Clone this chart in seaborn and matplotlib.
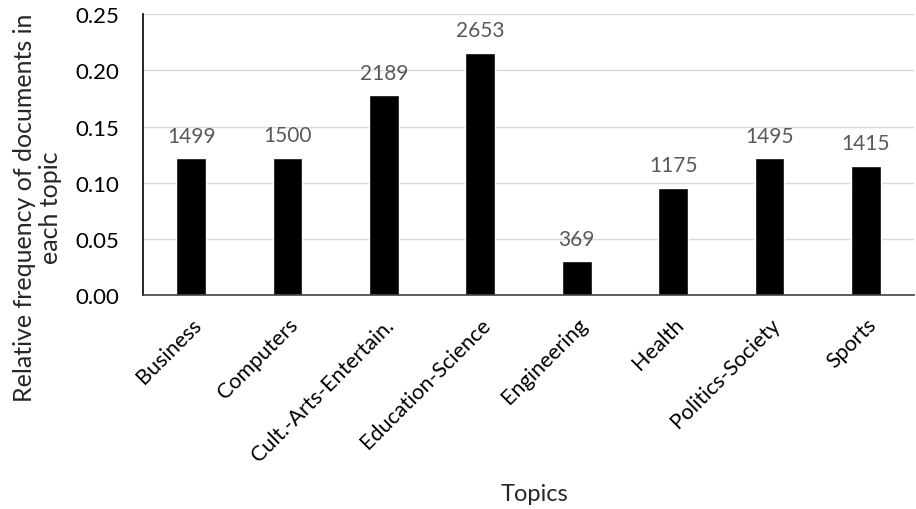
import matplotlib
matplotlib.use("Agg")
import matplotlib.pyplot as plt
import seaborn as sns
import pandas as pd

topics = ["Business", "Computers", "Cult.-Arts-Entertain.", "Education-Science",
          "Engineering", "Health", "Politics-Society", "Sports"]
doc_counts = [1499, 1500, 2189, 2653, 369, 1175, 1495, 1415]
y_ticks = [0.00, 0.05, 0.10, 0.15, 0.20, 0.25]

total = sum(doc_counts)
df = pd.DataFrame({"topic": topics, "count": doc_counts})
df["freq"] = df["count"] / total

sns.set_theme(style="white")
plt.rcParams["font.family"] = ["Lato", "DejaVu Sans"]

fig = plt.figure(figsize=(9.16, 5.10), dpi=100)
ax = fig.add_axes([0.156, 0.42, 0.842, 0.55])

sns.barplot(data=df, x="topic", y="freq", color="black", width=0.31,
            saturation=1, ax=ax)

ax.set_ylim(0, 0.25)
ax.set_yticks(y_ticks)
ax.set_yticklabels([f"{v:.2f}" for v in y_ticks], fontsize=16, color="black")
ax.yaxis.grid(True, color="#d9d9d9", linewidth=1)
ax.set_axisbelow(True)
ax.tick_params(axis="y", length=0, pad=17)
ax.tick_params(axis="x", length=0, pad=14)

for lbl in ax.get_xticklabels():
    lbl.set_rotation(45)
    lbl.set_ha("right")
    lbl.set_rotation_mode("anchor")
    lbl.set_fontsize(15.5)
    lbl.set_color("black")

for i, (c, f) in enumerate(zip(df["count"], df["freq"])):
    ax.annotate(str(c), (i, f), xytext=(0, 9), textcoords="offset points",
                ha="center", va="bottom", fontsize=15, color="#595959")

for side in ["top", "right"]:
    ax.spines[side].set_visible(False)
ax.spines["left"].set_color("black")
ax.spines["left"].set_linewidth(1.2)
ax.spines["bottom"].set_color("#404040")
ax.spines["bottom"].set_linewidth(1.2)

ax.set_ylabel("")
ax.set_xlabel("")
fig.text(0.041, 0.592, "Relative frequency of documents in\neach topic",
         rotation=90, ha="center", va="center", fontsize=18,
         linespacing=1.15, multialignment="center")
fig.text(0.584, 0.03, "Topics", ha="center", va="center", fontsize=17)

fig.savefig("out.png", dpi=100, facecolor="white")
